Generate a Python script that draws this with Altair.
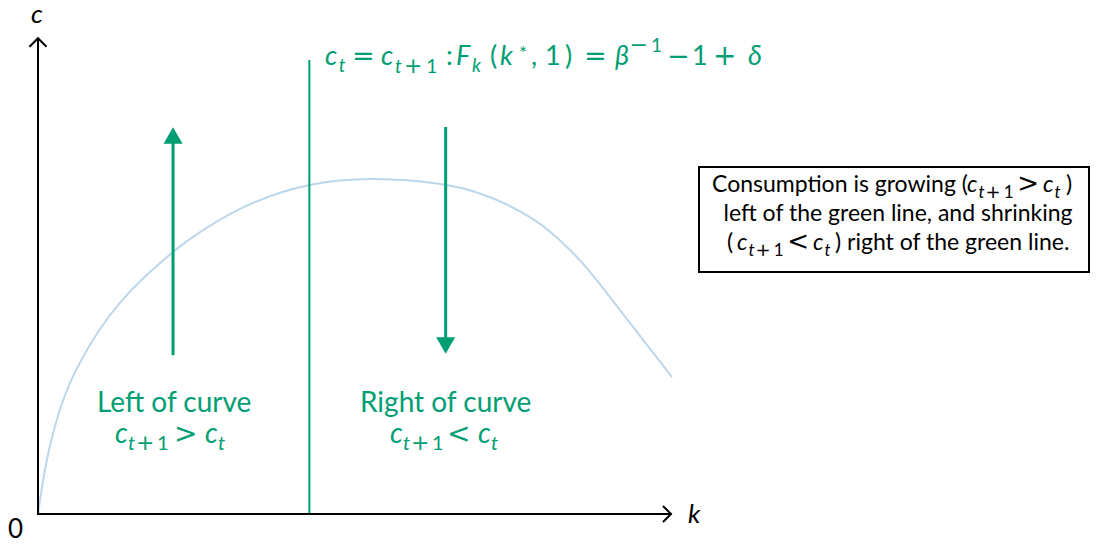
import altair as alt
import pandas as pd

# ---------------- data ----------------
curve_k = [0.0, 0.074, 0.178, 0.336, 0.494, 0.705, 0.967, 1.282, 1.651, 2.125,
           2.334, 3.213, 4.274, 5.284, 6.420, 6.972, 7.287, 7.603, 7.918, 8.233,
           8.502, 8.659, 8.975, 9.385, 10.0]
curve_c = [0.0, 0.690, 1.420, 2.200, 2.760, 3.320, 3.900, 4.460, 4.979, 5.527,
           5.759, 6.519, 6.998, 7.110, 6.977, 6.772, 6.603, 6.392, 6.139, 5.781,
           5.422, 5.190, 4.662, 3.945, 2.890]

k_star = 4.28          # green vertical line  c_t = c_{t+1}
k_star_top = 9.58
arrow_up_k = 2.13      # left arrow (growing)
arrow_up_from, arrow_up_to = 3.35, 7.90
arrow_up_head = 7.985
arrow_dn_k = 6.43      # right arrow (shrinking)
arrow_dn_from, arrow_dn_to = 8.165, 3.63
arrow_dn_head = 3.555
axis_k_max, axis_c_max = 9.98, 9.99

GREEN = "#009E73"
BLUE = "#bcd7ea"
BLACK = "#000000"
FONTS = {"txt": "Lato, DejaVu Sans, sans-serif", "sym": "DejaVu Sans, sans-serif"}

# ---------------- layout helpers (page pixel -> data units) ----------------
def kx(px):
    return (px - 38.0) / 63.4

def cy(py):
    return (514.0 - py) / 47.4

W, H = 1083, 532
XS = alt.Scale(domain=[kx(8), kx(8 + W)], nice=False, zero=False)
YS = alt.Scale(domain=[cy(8 + H), cy(8)], nice=False, zero=False)


def X(f="k"):
    return alt.X(f"{f}:Q", scale=XS, axis=None)


def Y(f="c"):
    return alt.Y(f"{f}:Q", scale=YS, axis=None)


segs = []


def seg(t, px, py, size, it=False, color=GREEN, align="left", font="txt"):
    segs.append(dict(text=t, k=kx(px), c=cy(py), size=size,
                     it=it, color=color, align=align, font=font))


def sym(t, px, py, size, color=GREEN):
    # DejaVu symbols: shift by their left side bearing so the ink starts at px
    seg(t, px - 0.11 * size, py, size, False, color, "left", "sym")


def c_sub(px, base, size, color, plus_one=True, s=1.0):
    sub = round(size * 0.72)
    off = 7 * s
    seg("c", px, base, size, True, color)
    seg("t", px + 13 * s, base + off, sub, True, color)
    if plus_one:
        sym("+", px + 23.5 * s, base + off, round(size * 0.8), color)
        seg("1", px + 42 * s, base + off, sub, False, color)


# title formula
TS, TSS = 27, 19
c_sub(325, 65, TS, GREEN, plus_one=False, s=1.05)
sym("=", 355, 65, TS)
c_sub(381, 65, TS, GREEN, s=1.08)
seg(":", 446, 65, TS)
seg("F", 456, 65, TS, True)
seg("k", 472, 72, TSS, True)
seg("(", 490, 65, TS)
seg("k", 500, 65, TS, True)
seg("*", 519, 60, TSS)
seg(",", 531, 65, TS)
seg("1", 545, 65, TS)
seg(")", 565, 65, TS)
sym("=", 587, 65, TS)
seg("β", 615, 65, TS, True)
sym("−", 632, 52, 22)
seg("1", 651, 52, TSS)
sym("−", 670, 65, TS)
seg("1", 692, 65, TS)
sym("+", 716, 65, 28)
seg("δ", 748, 65, TS, True)

# region labels
LS = 28
seg("Left of curve", 97, 412, LS)
seg("Right of curve", 360, 412, LS)
c_sub(115, 443, LS, GREEN)
sym(">", 177, 443, LS)
c_sub(205, 443, LS, GREEN, plus_one=False)
c_sub(390, 443, LS, GREEN)
sym("<", 450, 443, LS)
c_sub(478, 443, LS, GREEN, plus_one=False)

# axis names
seg("c", 31, 23, 26, True, BLACK)
seg("k", 688, 523, 26, True, BLACK)
seg("0", 8, 538, 26, False, BLACK)

# box text
BS, BSC = 23, 0.875
seg("Consumption is growing (", 712, 192, BS, False, BLACK)
c_sub(967, 192, BS, BLACK, s=BSC)
sym(">", 1020, 192, 26, BLACK)
c_sub(1043, 192, BS, BLACK, plus_one=False, s=BSC)
seg(")", 1066, 192, BS, False, BLACK)
seg("left of the green line, and shrinking", 898, 221, BS, False, BLACK, "center")
seg("(", 727, 250, BS, False, BLACK)
c_sub(737, 250, BS, BLACK, s=BSC)
sym("<", 790, 250, 26, BLACK)
c_sub(813, 250, BS, BLACK, plus_one=False, s=BSC)
seg(") right of the green line.", 835, 250, BS, False, BLACK)

text_df = pd.DataFrame(segs)

# ---------------- marks ----------------
curve = alt.Chart(pd.DataFrame({"k": curve_k, "c": curve_c})).mark_line(
    interpolate="basis", color=BLUE, strokeWidth=2
).encode(x=X(), y=Y())

green_line = alt.Chart(pd.DataFrame({"k": [k_star], "c": [0.0], "c2": [k_star_top]})).mark_rule(
    color=GREEN, strokeWidth=2
).encode(x=X(), y=Y(), y2="c2:Q")

shafts = alt.Chart(pd.DataFrame({
    "k": [arrow_up_k, arrow_dn_k],
    "c": [arrow_up_from, arrow_dn_from],
    "c2": [arrow_up_to, arrow_dn_to],
})).mark_rule(color=GREEN, strokeWidth=3).encode(x=X(), y=Y(), y2="c2:Q")

head_up = alt.Chart(pd.DataFrame({"k": [arrow_up_k], "c": [arrow_up_head]})).mark_point(
    shape="triangle-up", filled=True, size=361, color=GREEN, opacity=1, strokeWidth=0
).encode(x=X(), y=Y())
head_dn = alt.Chart(pd.DataFrame({"k": [arrow_dn_k], "c": [arrow_dn_head]})).mark_point(
    shape="triangle-down", filled=True, size=361, color=GREEN, opacity=1, strokeWidth=0
).encode(x=X(), y=Y())

x_axis = alt.Chart(pd.DataFrame({"k": [0.0], "k2": [axis_k_max], "c": [0.0]})).mark_rule(
    color=BLACK, strokeWidth=2, strokeCap="square"
).encode(x=X(), x2="k2:Q", y=Y())
y_axis = alt.Chart(pd.DataFrame({"k": [0.0], "c": [0.0], "c2": [axis_c_max]})).mark_rule(
    color=BLACK, strokeWidth=2, strokeCap="square"
).encode(x=X(), y=Y(), y2="c2:Q")

chev_x = alt.Chart(pd.DataFrame({"k": [kx(667)], "c": [0.0]})).mark_point(
    shape="M-0.5,-1L0.5,0L-0.5,1", filled=False, size=256, color=BLACK,
    strokeWidth=2, opacity=1
).encode(x=X(), y=Y())
chev_y = alt.Chart(pd.DataFrame({"k": [0.0], "c": [cy(42.5)]})).mark_point(
    shape="M-1,0.5L0,-0.5L1,0.5", filled=False, size=289, color=BLACK,
    strokeWidth=2, opacity=1
).encode(x=X(), y=Y())

box = alt.Chart(pd.DataFrame({"k": [kx(699)], "k2": [kx(1089)],
                              "c": [cy(167)], "c2": [cy(272)]})).mark_rect(
    fill="white", stroke=BLACK, strokeWidth=2
).encode(x=X(), x2="k2:Q", y=Y(), y2="c2:Q")


def text_layer(df, italic, align, font):
    kw = dict(align=align, baseline="alphabetic", font=FONTS[font])
    if italic:
        kw["fontStyle"] = "italic"
    return alt.Chart(df).mark_text(**kw).encode(
        x=X(), y=Y(), text="text:N",
        size=alt.Size("size:Q", scale=None),
        color=alt.Color("color:N", scale=None),
    )


layers = [curve, green_line, shafts, head_up, head_dn, x_axis, y_axis,
          chev_x, chev_y, box]
for font in ("txt", "sym"):
    for italic in (False, True):
        for align in ("left", "center"):
            sub = text_df[(text_df["it"] == italic) & (text_df["align"] == align)
                          & (text_df["font"] == font)]
            if len(sub):
                layers.append(text_layer(sub, italic, align, font))

chart = alt.layer(*layers).properties(
    width=W, height=H, autosize=alt.AutoSizeParams(type="none"),
    padding=0,
).configure_view(strokeWidth=0)

chart.save("out.html", embed_options={"renderer": "svg", "actions": False})
